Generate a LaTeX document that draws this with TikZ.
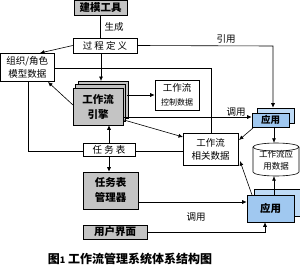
\documentclass[tikz,border=0pt]{standalone}
\usepackage{fontspec}
\setmainfont{Noto Sans CJK SC}
\usetikzlibrary{arrows.meta}
\definecolor{boxgray}{RGB}{196,196,196}
\definecolor{appblue}{RGB}{160,200,240}
\definecolor{appback}{RGB}{190,218,245}
\tikzset{
  bx/.style={draw, line width=0.6pt, inner sep=0pt, align=center, fill=white},
  graybx/.style={bx, fill=boxgray},
  bluebx/.style={bx, fill=appblue},
  backbx/.style={bx, fill=appback},
  conn/.style={line width=0.6pt},
  arr/.style={conn, -{Latex[length=4.5pt,width=4pt]}},
  lbl/.style={inner sep=0pt, font=\fontsize{9.5}{11}\selectfont},
  bf/.style={font=\fontsize{10.5}{15}\selectfont\bfseries},
  rg/.style={font=\fontsize{9.5}{13}\selectfont},
}
\begin{document}
\begin{tikzpicture}[x=1pt,y=-1pt]
\useasboundingbox (0,0) rectangle (300,271);
% boxes
\node[graybx, bf, minimum width=53pt, minimum height=15pt] (jm) at (100.5,7.5) {建模工具};
\node[bx, rg, minimum width=64pt, minimum height=15pt] (gc) at (105,45.5) {过~程~定~义};
\node[bx, rg, minimum width=54pt, minimum height=28pt] (zz) at (27.3,67) {组织/角色\\模型数据};
\node[graybx, minimum width=50pt, minimum height=37pt] (eb2) at (103,99.5) {};
\node[graybx, minimum width=50pt, minimum height=37pt] (eb1) at (100.5,103) {};
\node[graybx, bf, minimum width=50pt, minimum height=37pt] (en) at (98,106.5) {工作流\\引擎};
\node[bx, font=\fontsize{9.5}{14}\selectfont, minimum width=44pt, minimum height=30pt] (kz) at (177,95) {工作流\\{\fontsize{8}{10}\selectfont 控制数据}};
\node[bx, rg, minimum width=55pt, minimum height=32pt] (xg) at (210.5,149) {工作流\\相关数据};
\node[backbx, minimum width=37pt, minimum height=15pt] (a1b) at (275.5,115.5) {};
\node[bluebx, bf, font=\fontsize{9.5}{11}\selectfont\bfseries, minimum width=37pt, minimum height=14pt] (a1) at (270.5,120) {应用};
\node[bx, rg, minimum width=52pt, minimum height=13pt] (rw) at (109,149.5) {任~务~表};
\node[graybx, bf, minimum width=55pt, minimum height=37pt] (gl) at (110.5,190.5) {任务表\\管理器};
\node[graybx, bf, minimum width=64pt, minimum height=14pt] (ui) at (115,232) {用户界面};
\node[backbx, minimum width=47pt, minimum height=27pt] (a2b) at (278,202.5) {};
\node[bluebx, bf, minimum width=47pt, minimum height=27pt] (a2) at (270.5,208.5) {应用};
% cylinder
\draw[conn, fill=white] (253,147) -- (253,172) arc[start angle=180, end angle=360, x radius=23pt, y radius=4pt] -- (299,147);
\draw[conn, fill=white] (276,147) ellipse[x radius=23pt, y radius=4pt];
\node[inner sep=0pt, minimum width=46pt, minimum height=33pt, align=center, font=\fontsize{8.5}{12}\selectfont] (db) at (276,159.5) {\\[-4pt]工作流应\\用数据};
% connectors
\draw[conn] (jm.south) -- (jm.south |- gc.north);
\node[lbl] (l1) at (114,26.5) {生成};
\draw[arr] (gc.west) -- (40,53);
\draw[arr] (gc.south -| 101,0) -- (101,81);
\coordinate (c1) at (273,46);
\draw[arr] (gc.east) -- (c1) -- (c1 |- a1b.north);
\node[lbl] (l2) at (226,39) {引用};
\coordinate (c2) at (211,68);
\draw[conn] (zz.east |- c2) -- (c2) -- (c2 |- xg.north);
\draw[arr] (73,105) -- (48,82);
\draw[arr] (127,95) -- (kz.west);
\draw[arr] (123,117) -- (a1.west |- 0,117);
\node[lbl] (l3) at (236,112) {调用};
\draw[arr] (124,120) -- (183,137);
\draw[arr] (rw.north -| 109,0) -- (en.south -| 109,0);
\draw[arr] (rw.south -| 109,0) -- (gl.north -| 109,0);
\coordinate (c3) at (28,151);
\draw[conn] (zz.south -| c3) -- (c3) -- (rw.west |- c3);
\draw[conn] (rw.east |- c3) -- (xg.west |- c3);
\draw[arr] (253,128) -- (239,140);
\draw[arr] (a1.south -| 274,0) -- (db.north -| 274,0);
\draw[arr] (a2.north -| 274,0) -- (db.south -| 274,0);
\draw[arr] (252,195) -- (240,161);
\draw[arr] (gl.east |- 0,202) -- (a2.west |- 0,202);
\node[lbl] (l4) at (196,217) {调用};
\coordinate (c4) at (265,232);
\draw[arr] (ui.east) -- (c4) -- (c4 |- a2.south);
% title
\node[inner sep=0pt, font=\fontsize{12}{14}\selectfont\bfseries] (title) at (130,259) {图{\fontsize{9}{10}\selectfont 1}~工作流管理系统体系结构图};
\end{tikzpicture}
\end{document}
